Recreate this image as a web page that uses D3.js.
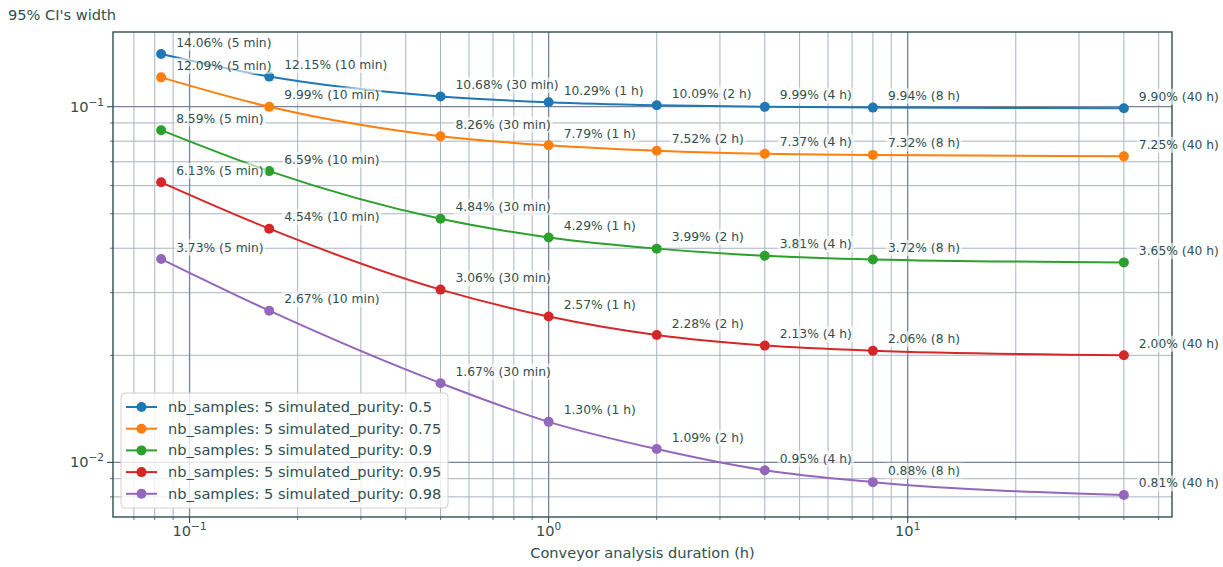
<!DOCTYPE html>
<html><head><meta charset="utf-8">
<script src="https://cdn.jsdelivr.net/npm/d3@7"></script>
<style>body{margin:0;background:#fff;} svg{display:block;font-family:"DejaVu Sans",sans-serif;}</style>
</head><body>
<svg id="chart" width="1223" height="567"></svg>
<script>
const durations = [5/60, 10/60, 0.5, 1, 2, 4, 8, 40];
const durationLabels = ["5 min", "10 min", "30 min", "1 h", "2 h", "4 h", "8 h", "40 h"];
const purities = ["0.5", "0.75", "0.9", "0.95", "0.98"];
const ciPurity050 = [14.06, 12.15, 10.68, 10.29, 10.09, 9.99, 9.94, 9.90];
const ciPurity075 = [12.09, 9.99, 8.26, 7.79, 7.52, 7.37, 7.32, 7.25];
const ciPurity090 = [8.59, 6.59, 4.84, 4.29, 3.99, 3.81, 3.72, 3.65];
const ciPurity095 = [6.13, 4.54, 3.06, 2.57, 2.28, 2.13, 2.06, 2.00];
const ciPurity098 = [3.73, 2.67, 1.67, 1.30, 1.09, 0.95, 0.88, 0.81];
const colors = ["#1f77b4", "#ff7f0e", "#2ca02c", "#d62728", "#9467bd"];
const xMajorTicks = [0.1, 1, 10];
const xMajorExp = ["−1", "0", "1"];
const yMajorTicks = [0.01, 0.1];
const yMajorExp = ["−2", "−1"];

const seriesValues = [ciPurity050, ciPurity075, ciPurity090, ciPurity095, ciPurity098];
const series = seriesValues.map((vals, i) => ({
  name: "nb_samples: 5 simulated_purity: " + purities[i],
  color: colors[i],
  pts: vals.map((v, j) => ({x: durations[j], y: v / 100, label: v.toFixed(2) + "% (" + durationLabels[j] + ")"}))
}));

const svg = d3.select("#chart");
const L = 113, R = 1172, T = 32, B = 517;
const textCol = "#2f4f4f";
const fs = 14.6;

function padLog(ext) {
  const a = Math.log10(ext[0]), b = Math.log10(ext[1]), p = (b - a) * 0.05;
  return [Math.pow(10, a - p), Math.pow(10, b + p)];
}
const allY = seriesValues.flat().map(v => v / 100);
const x = d3.scaleLog().domain(padLog(d3.extent(durations))).range([L, R]);
const y = d3.scaleLog().domain(padLog(d3.extent(allY))).range([B, T]);

function minorTicks(scale) {
  const [a, b] = scale.domain();
  const out = [];
  for (let e = Math.floor(Math.log10(a)); e <= Math.ceil(Math.log10(b)); e++) {
    for (let m = 2; m <= 9; m++) {
      const v = m * Math.pow(10, e);
      if (v >= a && v <= b) out.push(v);
    }
  }
  return out;
}
const xMinor = minorTicks(x), yMinor = minorTicks(y);

const grid = svg.append("g");
grid.selectAll(".gxm").data(xMinor).join("line")
  .attr("x1", d => x(d)).attr("x2", d => x(d)).attr("y1", T).attr("y2", B)
  .attr("stroke", "#a9b3c1").attr("stroke-width", 1);
grid.selectAll(".gym").data(yMinor).join("line")
  .attr("y1", d => y(d)).attr("y2", d => y(d)).attr("x1", L).attr("x2", R)
  .attr("stroke", "#a9b3c1").attr("stroke-width", 1);
grid.selectAll(".gxM").data(xMajorTicks).join("line")
  .attr("x1", d => x(d)).attr("x2", d => x(d)).attr("y1", T).attr("y2", B)
  .attr("stroke", "#75849a").attr("stroke-width", 1.3);
grid.selectAll(".gyM").data(yMajorTicks).join("line")
  .attr("y1", d => y(d)).attr("y2", d => y(d)).attr("x1", L).attr("x2", R)
  .attr("stroke", "#75849a").attr("stroke-width", 1.3);

const ax = svg.append("g").attr("stroke", textCol);
ax.selectAll(".txm").data(xMinor).join("line")
  .attr("x1", d => x(d)).attr("x2", d => x(d)).attr("y1", B).attr("y2", B + 3).attr("stroke-width", 0.8);
ax.selectAll(".txM").data(xMajorTicks).join("line")
  .attr("x1", d => x(d)).attr("x2", d => x(d)).attr("y1", B).attr("y2", B + 6).attr("stroke-width", 1.1);
ax.selectAll(".tym").data(yMinor).join("line")
  .attr("y1", d => y(d)).attr("y2", d => y(d)).attr("x1", L).attr("x2", L - 3).attr("stroke-width", 0.8);
ax.selectAll(".tyM").data(yMajorTicks).join("line")
  .attr("y1", d => y(d)).attr("y2", d => y(d)).attr("x1", L).attr("x2", L - 6).attr("stroke-width", 1.1);

const xl = svg.append("g").attr("fill", textCol).attr("font-size", fs);
xMajorTicks.forEach((v, i) => {
  const t = xl.append("text").attr("x", x(v)).attr("y", B + 19).attr("text-anchor", "middle");
  t.append("tspan").text("10");
  t.append("tspan").attr("dy", -6).attr("font-size", 10.5).text(xMajorExp[i]);
});
yMajorTicks.forEach((v, i) => {
  const t = xl.append("text").attr("x", L - 9).attr("y", y(v) + 5).attr("text-anchor", "end");
  t.append("tspan").text("10");
  t.append("tspan").attr("dy", -6).attr("font-size", 10.5).text(yMajorExp[i]);
});

svg.append("text").attr("x", (L + R) / 2).attr("y", 558).attr("text-anchor", "middle")
  .attr("fill", textCol).attr("font-size", fs).text("Conveyor analysis duration (h)");
svg.append("text").attr("x", 8).attr("y", 20).attr("fill", textCol).attr("font-size", fs).text("95% CI's width");

const line = d3.line().x(d => x(d.x)).y(d => y(d.y)).curve(d3.curveMonotoneX);
const plot = svg.append("g");
series.forEach(s => {
  plot.append("path").attr("d", line(s.pts)).attr("fill", "none").attr("stroke", s.color).attr("stroke-width", 2);
  plot.selectAll(null).data(s.pts).join("circle")
    .attr("cx", d => x(d.x)).attr("cy", d => y(d.y)).attr("r", 5).attr("fill", s.color);
});

svg.append("rect").attr("x", L).attr("y", T).attr("width", R - L).attr("height", B - T)
  .attr("fill", "none").attr("stroke", textCol).attr("stroke-width", 1.4);

const ann = svg.append("g").attr("font-size", 12.3);
series.forEach(s => {
  s.pts.forEach(d => {
    const g = ann.append("g");
    const t = g.append("text").attr("x", x(d.x) + 15).attr("y", y(d.y) - 7.5)
      .attr("fill", textCol).text(d.label);
    const bb = t.node().getBBox();
    g.insert("rect", "text").attr("x", bb.x - 2).attr("y", bb.y - 1).attr("width", bb.width + 4).attr("height", bb.height + 2)
      .attr("fill", "#fff").attr("fill-opacity", 0.6);
  });
});

const lg = svg.append("g");
lg.append("rect").attr("x", 121).attr("y", 393).attr("width", 327).attr("height", 115).attr("rx", 4)
  .attr("fill", "#fff").attr("fill-opacity", 0.8).attr("stroke", "#d0d0d0");
series.forEach((s, i) => {
  const yy = 407 + i * 21.7;
  lg.append("line").attr("x1", 126).attr("x2", 157).attr("y1", yy).attr("y2", yy).attr("stroke", s.color).attr("stroke-width", 2);
  lg.append("circle").attr("cx", 141.5).attr("cy", yy).attr("r", 5).attr("fill", s.color);
  lg.append("text").attr("x", 168).attr("y", yy + 5).attr("font-size", fs).attr("fill", textCol).text(s.name);
});
</script>
</body></html>
